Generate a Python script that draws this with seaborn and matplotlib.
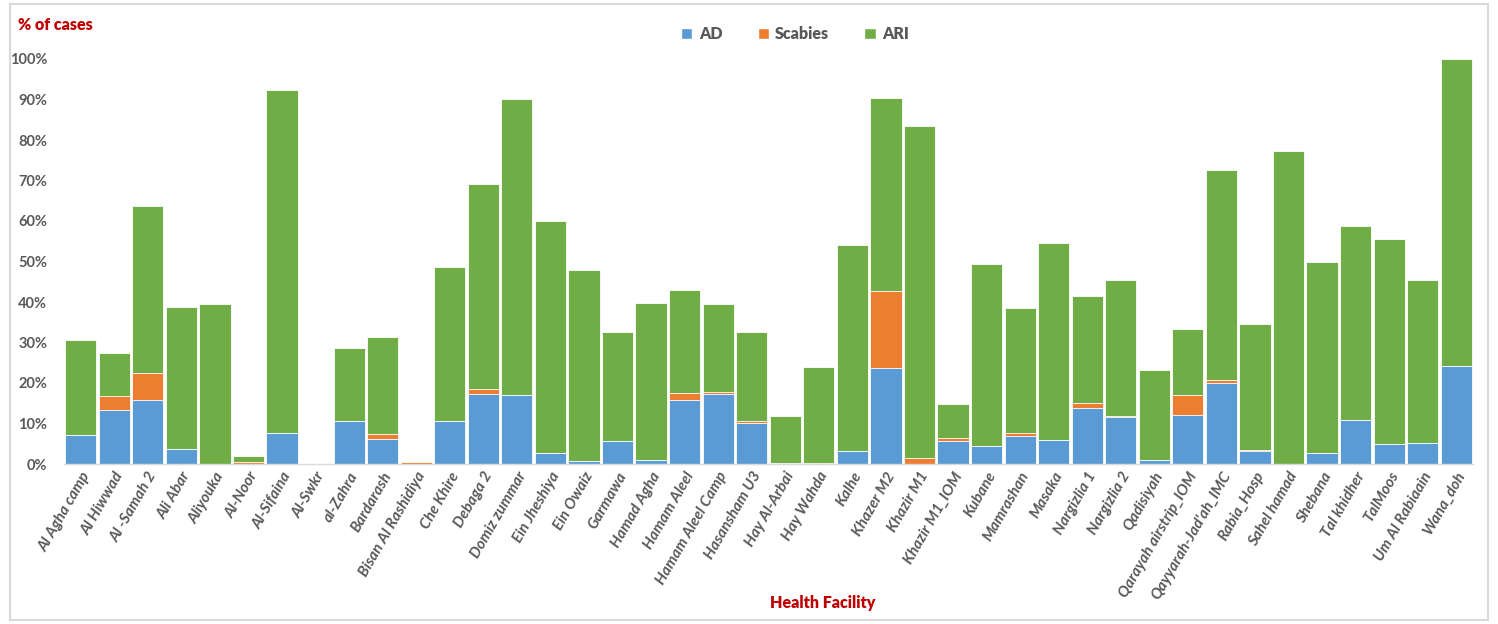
import numpy as np
import pandas as pd
import matplotlib
matplotlib.use("Agg")
import matplotlib.pyplot as plt
import seaborn as sns
from matplotlib.patches import Rectangle, Patch

facilities = ["Al Agha camp", "Al Hiwwad", "Al -Samah 2", "Ali Abar", "Aliyouka", "Al-Noor",
              "Al-Sifaina", "Al-Swkr", "al-Zahra", "Bardarash", "Bisan Al Rashidiya", "Che Khire",
              "Debaga 2", "Domiz zummar", "Ein Jheshiya", "Ein Owaiz", "Garmawa", "Hamad Agha",
              "Hamam Aleel", "Hamam Aleel Camp", "Hasansham U3", "Hay Al-Arbai", "Hay Wahda", "Kalhe",
              "Khazer M2", "Khazir M1", "Khazir M1_IOM", "Kubane", "Mamrashan", "Masaka",
              "Nargizlia 1", "Nargizlia 2", "Qadisiyah", "Qarayah airstrip_IOM", "Qayyarah-Jad'ah_IMC",
              "Rabia_Hosp", "Sahel hamad", "Shebana", "Tal khidher", "TalMoos", "Um Al Rabiaain",
              "Wana_doh"]

# percent of cases
ad = [7.2, 13.3, 15.7, 3.6, 0.0, 0.0, 7.7, 0.0, 10.7, 6.1, 0.0, 10.7,
      17.4, 17.1, 2.7, 0.8, 5.8, 1.1, 15.7, 17.4, 10.2, 0.25, 0.0, 3.1,
      23.8, 0.0, 5.8, 4.4, 6.9, 6.0, 13.8, 11.6, 1.1, 12.1, 19.9, 3.1,
      0.0, 2.7, 10.8, 5.0, 5.2, 24.3]
scabies = [0.0, 3.6, 6.7, 0.0, 0.0, 0.4, 0.0, 0.0, 0.0, 1.4, 0.4, 0.0,
           1.0, 0.0, 0.0, 0.0, 0.0, 0.0, 1.9, 0.4, 0.3, 0.0, 0.3, 0.0,
           18.9, 1.5, 0.6, 0.0, 0.8, 0.0, 1.3, 0.3, 0.0, 5.0, 0.8, 0.4,
           0.0, 0.0, 0.0, 0.0, 0.0, 0.0]
ari = [23.4, 10.4, 41.3, 35.2, 39.5, 1.6, 84.6, 0.0, 18.0, 23.9, 0.0, 37.9,
       50.7, 73.1, 57.2, 47.2, 26.7, 38.6, 25.4, 21.6, 22.0, 11.65, 23.7, 51.0,
       47.7, 82.0, 8.5, 44.9, 30.9, 48.6, 26.5, 33.6, 22.1, 16.3, 51.8, 31.0,
       77.4, 47.2, 48.0, 50.5, 40.3, 75.7]

series = ["AD", "Scabies", "ARI"]
colors = {"AD": "#5B9BD5", "Scabies": "#ED7D31", "ARI": "#70AD47"}

df = pd.DataFrame({"facility": facilities, "AD": ad, "Scabies": scabies, "ARI": ari})
df[series] = df[series] / 100
df["lvl_ad"] = df["AD"]
df["lvl_scab"] = df["AD"] + df["Scabies"]
df["lvl_ari"] = df["lvl_scab"] + df["ARI"]

sns.set_style("white")
plt.rcParams["font.family"] = ["Lato", "DejaVu Sans"]

fig = plt.figure(figsize=(14.98, 6.24), dpi=100)
ax = fig.add_axes([64 / 1498, 1 - 464 / 624, (1473 - 64) / 1498, (464 - 59) / 624])

# stacked bars drawn as layered cumulative totals
for col, name in [("lvl_ari", "ARI"), ("lvl_scab", "Scabies"), ("lvl_ad", "AD")]:
    sns.barplot(data=df, x="facility", y=col, order=facilities, color=colors[name],
                width=0.93, edgecolor="white", linewidth=0.6, saturation=1, ax=ax)

ax.set_ylim(0, 1.0)
ax.set_xlim(-0.5, len(facilities) - 0.5)
ax.set_yticks(np.arange(0, 1.01, 0.1))
ax.set_yticklabels([f"{int(round(v * 100))}%" for v in np.arange(0, 1.01, 0.1)],
                   color="#595959", fontsize=10.5, fontweight="bold")
ax.tick_params(axis="y", length=0, pad=12)
ax.tick_params(axis="x", length=0, pad=4)
ax.set_xticks(range(len(facilities)))
ax.set_xticklabels(facilities, rotation=60, ha="right", rotation_mode="anchor",
                   color="#595959", fontsize=11, fontweight="bold", fontstyle="italic")
ax.set_xlabel("")
ax.set_ylabel("")
for s in ["top", "right", "left"]:
    ax.spines[s].set_visible(False)
ax.spines["bottom"].set_color("#D9D9D9")
ax.spines["bottom"].set_linewidth(1)

fig.text(18 / 1498, 1 - 25 / 624, "% of cases", color="#C00000", fontsize=11.5,
         fontweight="heavy", va="center", ha="left")
fig.text(823 / 1498, 1 - 603 / 624, "Health Facility", color="#C00000", fontsize=11.5,
         fontweight="heavy", va="center", ha="center")

handles = [Patch(facecolor=colors[s], label=s) for s in series]
leg = fig.legend(handles=handles, loc="center", bbox_to_anchor=(795 / 1498, 1 - 34 / 624),
                 ncol=3, frameon=False, handlelength=0.7, handleheight=0.7,
                 columnspacing=2.2, handletextpad=0.4, prop={"size": 11.5, "weight": "heavy"})
for t in leg.get_texts():
    t.set_color("#595959")

fig.add_artist(Rectangle((10 / 1498, 4 / 624), 1478 / 1498, 616 / 624,
                         transform=fig.transFigure, fill=False, edgecolor="#D9D9D9", linewidth=1.5))

fig.savefig("out.png", dpi=100)
